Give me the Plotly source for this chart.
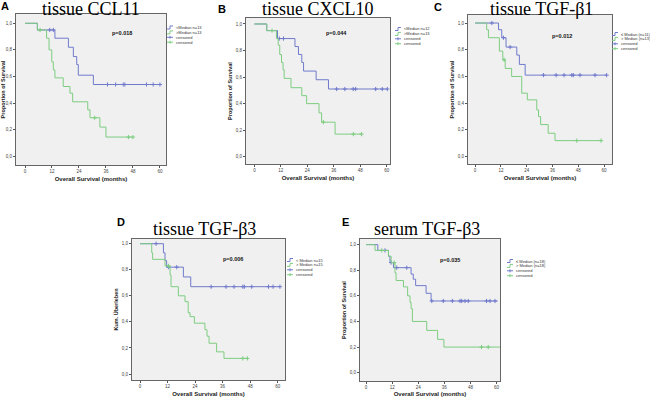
import plotly.graph_objects as go

W, H = 650, 397

# ---------------- data ----------------
panel_ids = ["A", "B", "C", "D", "E"]
titles = ["tissue CCL11", "tissue CXCL10", "tissue TGF-\u03b21", "tissue TGF-\u03b23", "serum TGF-\u03b23"]
p_values = ["p=0.018", "p=0.044", "p=0.012", "p=0.006", "p=0.035"]
y_titles = ["Proportion of Survival", "Proportion of Survival", "Proportion of Survival",
            "Kum. \u00dcberleben", "Proportion of Survival"]
x_title = "Overall Survival (months)"
legend_low = ["<Median n=13", "<Median n=12", "\u2264 Median (n=11)", "< Median n=15", "\u2264 Median (n=18)"]
legend_high = [">Median n=13", ">Median n=13", "> Median (n=13)", "> Median n=15", "> Median (n=18)"]
legend_cens = "censored"

x_ticks = [0, 12, 24, 36, 48, 60]
y_ticks = [0.0, 0.2, 0.4, 0.6, 0.8, 1.0]
y_ticktext = ["0,0", "0,2", "0,4", "0,6", "0,8", "1,0"]

# A
a_low_t = [5.5, 13.3, 19.3, 21.5, 23.0, 23.7, 30.4]
a_low_s = [0.95, 0.888, 0.82, 0.75, 0.69, 0.61, 0.54]
a_low_end = 60.5
a_low_c = [11.0, 12.6, 36.7, 40.3, 43.7, 44.4, 54.0, 57.0, 60.0]
a_high_t = [5.5, 9.6, 10.7, 11.9, 12.6, 13.3, 17.0, 20.0, 21.2, 27.9, 28.9, 33.3, 36.0]
a_high_s = [0.95, 0.888, 0.80, 0.71, 0.65, 0.59, 0.525, 0.475, 0.41, 0.35, 0.29, 0.22, 0.145]
a_high_end = 48.0
a_high_c = [6.7, 31.0, 46.0, 48.0]

# B
b_low_t = [5.6, 10.5, 18.4, 20.0, 21.5, 22.3, 28.0, 33.6]
b_low_s = [0.95, 0.89, 0.83, 0.77, 0.71, 0.645, 0.58, 0.51]
b_low_end = 60.3
b_low_c = [11.3, 13.2, 37.3, 41.0, 44.8, 45.9, 55.0, 58.0, 60.3]
b_high_t = [5.6, 10.0, 10.8, 11.5, 12.3, 13.0, 13.5, 16.6, 21.5, 23.7, 29.3, 30.5, 36.6]
b_high_s = [0.95, 0.89, 0.84, 0.77, 0.71, 0.655, 0.59, 0.52, 0.46, 0.40, 0.33, 0.26, 0.17]
b_high_end = 48.6
b_high_c = [8.0, 31.3, 44.9, 48.6]

# C
c_low_t = [10.9, 12.4, 14.4, 19.4, 20.6, 23.3]
c_low_s = [0.95, 0.89, 0.82, 0.76, 0.69, 0.61]
c_low_end = 61.2
c_low_c = [7.8, 13.2, 16.3, 31.8, 37.7, 41.4, 45.0, 45.7, 48.8, 55.8, 61.2]
c_high_t = [5.4, 6.2, 11.3, 12.9, 14.0, 17.0, 21.7, 24.3, 28.7, 29.5, 30.5, 34.0, 37.2]
c_high_s = [0.95, 0.89, 0.79, 0.725, 0.66, 0.60, 0.475, 0.425, 0.35, 0.30, 0.24, 0.175, 0.12]
c_high_end = 58.6
c_high_c = [13.5, 47.3, 58.6]

# D
d_low_t = [10.2, 10.9, 11.6, 18.9, 22.1]
d_low_s = [0.93, 0.87, 0.82, 0.745, 0.67]
d_low_end = 61.0
d_low_c = [7.0, 12.4, 16.0, 31.0, 37.5, 41.0, 44.8, 45.5, 48.7, 56.0, 58.0, 61.0]
d_high_t = [5.1, 5.5, 10.9, 13.1, 13.5, 16.7, 19.6, 21.0, 21.8, 23.7, 28.3, 29.2, 30.1, 33.4, 36.6]
d_high_s = [0.93, 0.88, 0.83, 0.76, 0.67, 0.60, 0.555, 0.47, 0.44, 0.39, 0.34, 0.29, 0.236, 0.17, 0.12]
d_high_end = 46.8
d_high_c = [12.4, 44.8, 46.8]

# E
e_low_t = [5.4, 10.3, 11.0, 12.6, 20.7, 21.7, 22.8, 27.6, 29.9]
e_low_s = [0.955, 0.91, 0.86, 0.82, 0.77, 0.73, 0.68, 0.62, 0.56]
e_low_end = 60.5
e_low_c = [8.7, 11.5, 14.1, 18.7, 30.2, 35.5, 39.7, 43.2, 44.0, 45.5, 47.0, 55.4, 57.0, 59.3]
e_high_t = [4.1, 10.3, 11.5, 13.3, 13.8, 17.2, 19.1, 20.2, 20.7, 21.3, 27.9, 32.9, 35.8]
e_high_s = [0.955, 0.91, 0.86, 0.78, 0.72, 0.67, 0.60, 0.55, 0.50, 0.40, 0.33, 0.26, 0.20]
e_high_end = 61.6
e_high_c = [7.2, 12.9, 53.1, 56.2]

groups = [
    ((a_low_t, a_low_s, a_low_end, a_low_c), (a_high_t, a_high_s, a_high_end, a_high_c)),
    ((b_low_t, b_low_s, b_low_end, b_low_c), (b_high_t, b_high_s, b_high_end, b_high_c)),
    ((c_low_t, c_low_s, c_low_end, c_low_c), (c_high_t, c_high_s, c_high_end, c_high_c)),
    ((d_low_t, d_low_s, d_low_end, d_low_c), (d_high_t, d_high_s, d_high_end, d_high_c)),
    ((e_low_t, e_low_s, e_low_end, e_low_c), (e_high_t, e_high_s, e_high_end, e_high_c)),
]

# ---------------- layout (pixel boxes) ----------------
boxes = [  # left, top, right, bottom in px
    (16, 14, 166, 165),
    (246, 18, 390, 164),
    (468, 15, 612, 164),
    (132, 239, 285, 380),
    (360, 239, 500, 381),
]
x_ranges = [(-4.0, 62.7), (-3.8, 61.5), (-3.3, 63.7), (-3.5, 63.2), (-2.8, 61.6)]
y_ranges = [(-0.065, 1.07), (-0.055, 1.045), (-0.055, 1.06), (-0.046, 1.036), (-0.065, 1.044)]
p_pos = [(43, 0.93), (37.3, 0.93), (40.3, 0.9), (40.7, 0.88), (38.6, 0.88)]
title_pos = [(91, 9), (318, 9), (541, 9), (204, 229), (427, 229)]
letter_pos = [(5, 6), (222, 9), (438, 7), (121, 222), (345, 222)]
legend_pos = [(167, 27.5), (395, 29), (612, 34), (287, 260), (507, 261)]

BLUE = "rgb(112,122,204)"
GREEN = "rgb(125,205,128)"


def px_x(px):
    return px / W


def px_y(py):
    return 1 - py / H


def surv_at(times, surv, t):
    s = 1.0
    for ti, si in zip(times, surv):
        if ti <= t:
            s = si
    return s


fig = go.Figure()
annotations = []
shapes = []

for i in range(5):
    n = "" if i == 0 else str(i + 1)
    xa, ya = "x" + n, "y" + n
    l, t, r, b = boxes[i]
    fig.update_layout(**{
        "xaxis" + n: dict(domain=[px_x(l), px_x(r)], range=list(x_ranges[i]), anchor=ya,
                          tickvals=x_ticks, ticks="outside", ticklen=2, tickwidth=1,
                          tickcolor="#555", showgrid=False, zeroline=False,
                          showline=True, mirror=True, linecolor="#666", linewidth=1,
                          tickfont=dict(size=4.5, color="#444", family="Arial"),
                          title=dict(text=x_title, standoff=3,
                                     font=dict(size=6, color="#222", family="Arial", weight="bold"))),
        "yaxis" + n: dict(domain=[px_y(b), px_y(t)], range=list(y_ranges[i]), anchor=xa,
                          tickvals=y_ticks, ticktext=y_ticktext, ticks="outside", ticklen=2,
                          tickwidth=1, tickcolor="#555", showgrid=False, zeroline=False,
                          showline=True, mirror=True, linecolor="#666", linewidth=1,
                          tickfont=dict(size=4.5, color="#444", family="Arial"),
                          title=dict(text=y_titles[i], standoff=2,
                                     font=dict(size=5.5, color="#222", family="Arial", weight="bold"))),
    })
    for (times, surv, end, cens), col in zip(groups[i], [BLUE, GREEN]):
        xs = [0] + list(times) + [end]
        ys = [1.0] + list(surv) + [surv[-1]]
        fig.add_trace(go.Scatter(x=xs, y=ys, mode="lines", line=dict(color=col, width=1, shape="hv"),
                                 xaxis=xa, yaxis=ya, showlegend=False, hoverinfo="skip"))
        fig.add_trace(go.Scatter(x=cens, y=[surv_at(times, surv, c) for c in cens], mode="markers",
                                 marker=dict(symbol="cross-thin", size=3, line=dict(color=col, width=1)),
                                 xaxis=xa, yaxis=ya, showlegend=False, hoverinfo="skip"))
    # p value
    annotations.append(dict(x=p_pos[i][0], y=p_pos[i][1], xref=xa, yref=ya, text=p_values[i],
                            showarrow=False, font=dict(size=5.5, color="#111", family="Arial", weight="bold")))
    # title
    annotations.append(dict(x=px_x(title_pos[i][0]), y=px_y(title_pos[i][1]), xref="paper", yref="paper",
                            text=titles[i], showarrow=False, xanchor="center", yanchor="middle",
                            font=dict(size=18, color="#000", family="Liberation Serif")))
    # panel letter
    annotations.append(dict(x=px_x(letter_pos[i][0]), y=px_y(letter_pos[i][1]), xref="paper", yref="paper",
                            text=panel_ids[i], showarrow=False, xanchor="center", yanchor="middle",
                            font=dict(size=11, color="#000", family="Arial", weight="bold")))
    # legend
    lx, ly = legend_pos[i]
    entries = [(legend_low[i], BLUE, False), (legend_high[i], GREEN, False),
               (legend_cens, BLUE, True), (legend_cens, GREEN, True)]
    for k, (txt, col, is_c) in enumerate(entries):
        yy = ly + 4.9 * k
        if is_c:
            shapes.append(dict(type="line", xref="paper", yref="paper", x0=px_x(lx), x1=px_x(lx + 6),
                               y0=px_y(yy), y1=px_y(yy), line=dict(color=col, width=1)))
            shapes.append(dict(type="line", xref="paper", yref="paper", x0=px_x(lx + 3), x1=px_x(lx + 3),
                               y0=px_y(yy - 1.5), y1=px_y(yy + 1.5), line=dict(color=col, width=1)))
        else:
            shapes.append(dict(type="path", xref="paper", yref="paper",
                               path="M %f %f L %f %f L %f %f L %f %f" % (
                                   px_x(lx), px_y(yy + 1.5), px_x(lx + 3), px_y(yy + 1.5),
                                   px_x(lx + 3), px_y(yy - 1.5), px_x(lx + 6), px_y(yy - 1.5)),
                               line=dict(color=col, width=1)))
        annotations.append(dict(x=px_x(lx + 7), y=px_y(yy), xref="paper", yref="paper", text=txt,
                                showarrow=False, xanchor="left", yanchor="middle",
                                font=dict(size=4, color="#333", family="Arial")))

fig.update_layout(width=W, height=H, margin=dict(l=0, r=0, t=0, b=0),
                  paper_bgcolor="white", plot_bgcolor="#f0f0f0",
                  annotations=annotations, shapes=shapes, showlegend=False)

fig.write_html("out.html", config={"displayModeBar": False},
               post_script="document.body.style.margin='0';document.body.style.overflow='hidden';")
